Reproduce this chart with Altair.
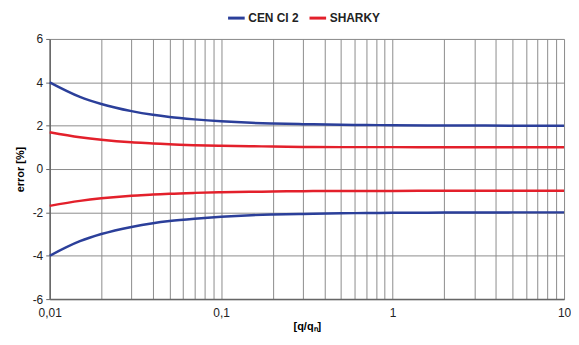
import altair as alt
import pandas as pd

x_vals = [0.01, 0.015, 0.02, 0.03, 0.04, 0.05, 0.07, 0.1, 0.15, 0.2, 0.3, 0.5, 0.7, 1, 2, 5, 10]
cen_upper = [4.0, 3.33, 3.0, 2.67, 2.5, 2.4, 2.29, 2.2, 2.13, 2.1, 2.07, 2.04, 2.03, 2.02, 2.01, 2.0, 2.0]
cen_lower = [-4.0, -3.33, -3.0, -2.67, -2.5, -2.4, -2.29, -2.2, -2.13, -2.1, -2.07, -2.04, -2.03, -2.02, -2.01, -2.0, -2.0]
sharky_upper = [1.7, 1.47, 1.35, 1.23, 1.18, 1.14, 1.10, 1.07, 1.05, 1.04, 1.02, 1.01, 1.01, 1.01, 1.0, 1.0, 1.0]
sharky_lower = [-1.7, -1.47, -1.35, -1.23, -1.18, -1.14, -1.10, -1.07, -1.05, -1.04, -1.02, -1.01, -1.01, -1.01, -1.0, -1.0, -1.0]

series_names = ["CEN CI 2", "SHARKY"]
series_colors = ["#2b3f9a", "#e3202b"]
x_ticks = [0.01, 0.02, 0.03, 0.04, 0.05, 0.06, 0.07, 0.08, 0.09,
           0.1, 0.2, 0.3, 0.4, 0.5, 0.6, 0.7, 0.8, 0.9,
           1, 2, 3, 4, 5, 6, 7, 8, 9, 10]
y_ticks = [-6, -4, -2, 0, 2, 4, 6]

rows = []
for name, curve, ys in [("CEN CI 2", "cu", cen_upper), ("CEN CI 2", "cl", cen_lower),
                        ("SHARKY", "su", sharky_upper), ("SHARKY", "sl", sharky_lower)]:
    for i, (xv, yv) in enumerate(zip(x_vals, ys)):
        rows.append({"x": xv, "y": yv, "series": name, "curve": curve, "order": i})
df = pd.DataFrame(rows)

font = "Liberation Sans"

chart = alt.Chart(df).mark_line(strokeWidth=2.5, interpolate="monotone").encode(
    x=alt.X("x:Q",
            scale=alt.Scale(type="log", domain=[0.01, 10], nice=False),
            axis=alt.Axis(values=x_ticks, title="[q/qₙ]",
                          labelExpr="datum.value == 0.01 ? '0,01' : datum.value == 0.1 ? '0,1' : datum.value == 1 ? '1' : datum.value == 10 ? '10' : ''",
                          grid=True, gridColor="#8c8c8c", gridWidth=1, gridOpacity=1,
                          ticks=False, domainColor="#666", domainWidth=1.5,
                          labelFont=font, labelFontSize=12, labelColor="#222", labelPadding=9,
                          titleFont=font, titleFontSize=11, titleFontWeight="bold", titlePadding=2,
                          labelFlush=False)),
    y=alt.Y("y:Q",
            scale=alt.Scale(domain=[-6, 6], nice=False),
            axis=alt.Axis(values=y_ticks, title="error [%]",
                          labelExpr="'' + datum.value",
                          grid=True, gridColor="#8c8c8c", gridWidth=1, gridOpacity=1,
                          ticks=True, tickSize=4, tickColor="#666", domainColor="#666", domainWidth=1.5,
                          labelFont=font, labelFontSize=12, labelColor="#222", labelPadding=3,
                          titleFont=font, titleFontSize=11, titleFontWeight="bold", titlePadding=7)),
    color=alt.Color("series:N",
                    scale=alt.Scale(domain=series_names, range=series_colors),
                    legend=alt.Legend(title=None, orient="none", direction="horizontal",
                                      legendX=178, legendY=-31,
                                      symbolType="stroke", symbolSize=280, symbolStrokeWidth=3,
                                      labelFont=font, labelFontSize=12, labelFontWeight="bold",
                                      labelColor="#222", columnPadding=4, labelOffset=2)),
    detail="curve:N",
    order="order:Q",
).properties(
    width=518, height=262,
    autosize=alt.AutoSizeParams(type="none"),
    padding={"left": 42, "top": 30, "right": 7, "bottom": 37},
).configure_view(stroke="#8c8c8c", strokeWidth=1).configure(background="white")

chart.save("out.html", embed_options={"renderer": "svg", "actions": False})
